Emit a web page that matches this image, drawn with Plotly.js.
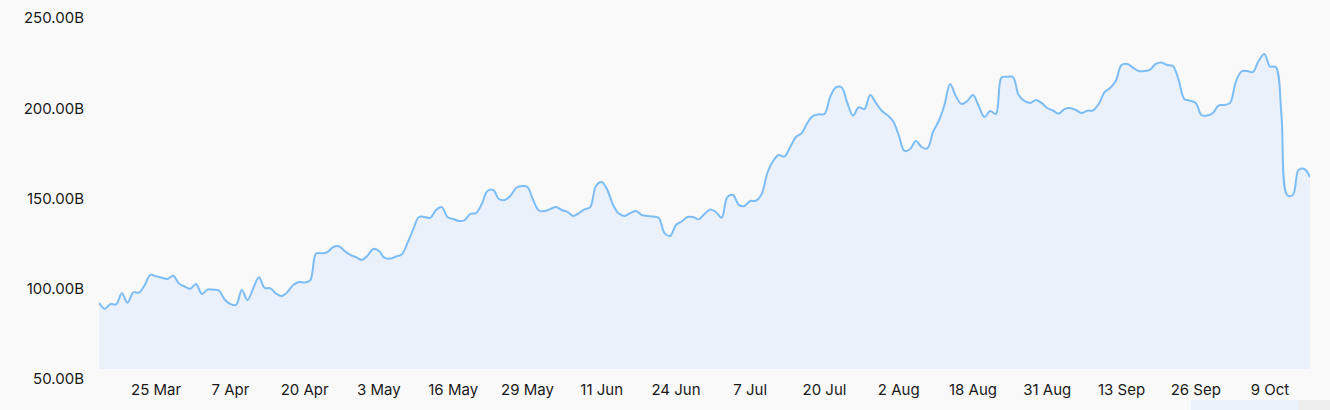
<!DOCTYPE html>
<html>
<head>
<meta charset="utf-8">
<script src="https://cdn.plot.ly/plotly-3.0.1.min.js"></script>
<style>
html,body{margin:0;padding:0;background:#f9f9f9;}
#chart{width:1330px;height:410px;}
</style>
</head>
<body>
<div id="chart"></div>
<script>
// Daily dates from 15 Mar to 16 Oct; three days are absent from the series.
const startDate = "2024-03-15";
const endDate = "2024-10-16";
const missingDates = ["2024-08-09", "2024-08-10", "2024-08-11"];

// Values in billions, one per date
const values = [
  86.7, 83.4, 86.0, 85.8, 91.9, 86.7, 92.5, 92.3, 96.5, 102.1,
  101.4, 100.6, 99.9, 101.7, 97.4, 95.7, 94.5, 97.1, 91.6, 94.0,
  93.9, 93.5, 88.5, 86.0, 85.5, 93.8, 88.2, 94.7, 100.8, 94.9,
  94.7, 91.8, 90.4, 92.7, 96.5, 98.2, 97.9, 99.3, 114.0, 114.1,
  114.8, 117.6, 118.0, 115.4, 113.2, 112.0, 110.4, 112.8, 116.5, 115.4,
  111.5, 111.2, 112.3, 113.4, 119.8, 127.3, 134.2, 134.2, 133.7, 138.1,
  139.7, 134.2, 133.1, 132.0, 132.5, 135.9, 136.4, 141.4, 148.6, 149.2,
  144.2, 143.6, 145.8, 150.3, 151.4, 150.8, 143.6, 137.8, 137.5, 138.6,
  139.7, 138.1, 137.0, 134.8, 136.4, 138.4, 139.7, 151.4, 153.6, 149.2,
  140.9, 136.1, 134.8, 136.4, 137.5, 135.3, 134.8, 134.5, 133.7, 125.3,
  123.7, 129.8, 131.7, 134.2, 134.2, 132.9, 135.9, 138.4, 137.0, 133.8,
  145.3, 146.4, 140.9, 140.3, 143.1, 143.2, 146.9, 158.6, 165.2, 168.6,
  167.7, 173.0, 178.5, 180.6, 186.3, 190.2, 191.1, 191.3, 200.7, 206.0,
  206.1, 197.4, 190.4, 195.0, 194.0, 201.8, 197.4, 193.2, 190.7, 187.4,
  179.6, 170.8, 171.9, 176.3, 173.0, 172.2, 181.3, 187.4, 196.3, 207.9,
  201.2, 196.8, 198.5, 201.8, 195.7, 189.6, 192.9, 191.3, 211.5, 211.9,
  211.8, 201.8, 198.5, 197.4, 199.0, 197.4, 194.6, 193.2, 191.5, 194.0,
  194.6, 193.5, 191.8, 193.1, 193.2, 196.8, 203.2, 205.7, 209.6, 218.4,
  219.0, 217.0, 215.1, 215.1, 215.9, 219.0, 219.8, 218.4, 217.9, 210.1,
  199.6, 198.6, 197.4, 190.7, 190.4, 191.8, 196.0, 196.3, 197.4, 209.0,
  214.8, 215.1, 214.5, 220.6, 224.5, 217.6, 217.3, 190.7, 146.4, 146.4,
  160.2, 160.8, 156.4
];

const tickLabels = ["25 Mar","7 Apr","20 Apr","3 May","16 May","29 May","11 Jun","24 Jun",
  "7 Jul","20 Jul","2 Aug","18 Aug","31 Aug","13 Sep","26 Sep","9 Oct"];
const yTicks = [50, 100, 150, 200, 250];
const yTickText = yTicks.map(v => v.toFixed(2) + "B");

const monthNames = ["Jan","Feb","Mar","Apr","May","Jun","Jul","Aug","Sep","Oct","Nov","Dec"];
const dates = [];
{
  const d = new Date(startDate + "T00:00:00Z");
  const e = new Date(endDate + "T00:00:00Z");
  while (d <= e) {
    const iso = d.toISOString().slice(0, 10);
    if (!missingDates.includes(iso)) dates.push(d.getUTCDate() + " " + monthNames[d.getUTCMonth()]);
    d.setUTCDate(d.getUTCDate() + 1);
  }
}

const trace = {
  x: dates,
  y: values,
  type: "scatter",
  mode: "lines",
  line: {color: "#7dbdf6", width: 2, shape: "spline", smoothing: 1},
  fill: "tozeroy",
  fillcolor: "#eaf1fa",
  hoverinfo: "x+y"
};

const layout = {
  width: 1330,
  height: 410,
  margin: {l: 99, r: 20, t: 8, b: 41, pad: 0},
  paper_bgcolor: "#f9f9f9",
  plot_bgcolor: "#f9f9f9",
  showlegend: false,
  font: {family: "Inter, Roboto, 'Noto Sans', sans-serif", size: 15, color: "#1a1a1a"},
  xaxis: {
    type: "category",
    range: [0, dates.length - 1],
    tickmode: "array",
    tickvals: tickLabels,
    ticktext: tickLabels,
    ticklabelstandoff: 10,
    showgrid: false,
    zeroline: false,
    showline: false,
    ticks: "",
    tickfont: {size: 15, color: "#1a1a1a"}
  },
  yaxis: {
    range: [50, 250],
    tickmode: "array",
    tickvals: yTicks,
    ticktext: yTickText,
    ticklabelshift: 10,
    ticklabelstandoff: 14,
    showgrid: false,
    zeroline: false,
    showline: false,
    ticks: "",
    tickfont: {size: 15, color: "#1a1a1a"}
  },
  shapes: [
    {type: "rect", xref: "paper", yref: "paper", x0: 0.9017, x1: 0.9901, y0: -0.0859, y1: -0.14,
     fillcolor: "#eaf1fa", line: {width: 0}, layer: "above"},
    {type: "rect", xref: "paper", yref: "paper", x0: 0.9901, x1: 1.02, y0: -0.0859, y1: -0.14,
     fillcolor: "#eeeeee", line: {width: 0}, layer: "above"}
  ]
};

Plotly.newPlot("chart", [trace], layout, {displayModeBar: false, responsive: false});
</script>
</body>
</html>
